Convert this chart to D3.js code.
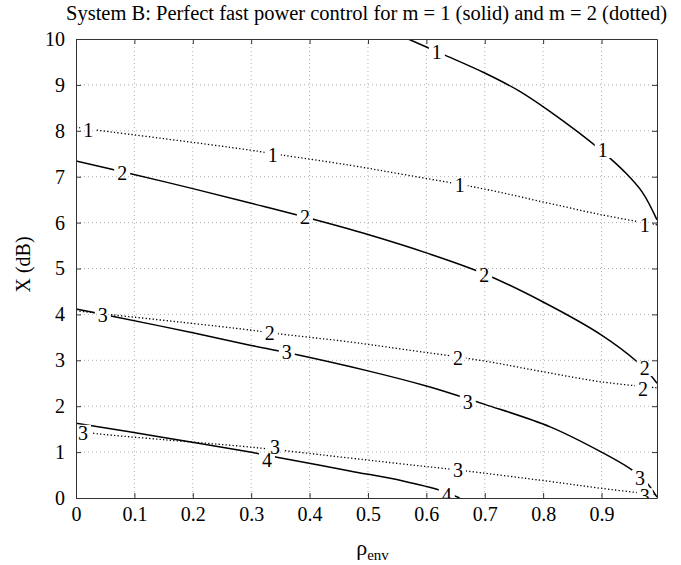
<!DOCTYPE html>
<html>
<head>
<meta charset="utf-8">
<script src="https://cdn.jsdelivr.net/npm/d3@7/dist/d3.min.js"></script>
<style>
  body { margin: 0; background: #fff; }
  text { font-family: "Liberation Serif", "Times New Roman", serif; }
</style>
</head>
<body>
<div id="chart"></div>
<script>
const MARGIN = { TOP: 39, BOTTOM: 67, LEFT: 76, RIGHT: 24 }
const WIDTH = 681 - MARGIN.LEFT - MARGIN.RIGHT
const HEIGHT = 565 - MARGIN.TOP - MARGIN.BOTTOM
const FONT_SIZE = 20

const xTicks = [0, 0.1, 0.2, 0.3, 0.4, 0.5, 0.6, 0.7, 0.8, 0.9]
const yTicks = [0, 1, 2, 3, 4, 5, 6, 7, 8, 9, 10]

// m = 1 (solid) contours, [rho, X dB]
const solid1 = [[0.569, 10], [0.628, 9.67], [0.70, 9.26], [0.76, 8.86], [0.812, 8.42], [0.86, 7.97], [0.904, 7.52], [0.94, 7.1], [0.97, 6.66], [0.995, 6.06]]
const solid2 = [[0, 7.34], [0.092, 7.07], [0.2, 6.74], [0.3, 6.42], [0.392, 6.12], [0.5, 5.74], [0.6, 5.34], [0.7, 4.88], [0.8, 4.27], [0.9, 3.55], [0.96, 2.98], [0.983, 2.69], [0.995, 2.5]]
const solid3 = [[0, 4.12], [0.062, 3.96], [0.2, 3.6], [0.298, 3.33], [0.361, 3.17], [0.5, 2.77], [0.6, 2.44], [0.7, 2.04], [0.812, 1.55], [0.9, 1.0], [0.949, 0.64], [0.975, 0.37], [0.995, 0.02]]
const solid4 = [[0, 1.63], [0.15, 1.32], [0.298, 1.0], [0.344, 0.89], [0.469, 0.59], [0.56, 0.37], [0.623, 0.17], [0.657, 0]]

// m = 2 (dotted) contours
const dotted1 = [[0, 8.08], [0.033, 8.02], [0.15, 7.83], [0.298, 7.58], [0.354, 7.47], [0.469, 7.25], [0.569, 7.03], [0.692, 6.75], [0.8, 6.45], [0.9, 6.17], [0.995, 5.95]]
const dotted2 = [[0, 4.08], [0.063, 3.99], [0.18, 3.83], [0.298, 3.66], [0.332, 3.6], [0.469, 3.4], [0.56, 3.24], [0.692, 3.0], [0.8, 2.75], [0.9, 2.53], [0.995, 2.4]]
const dotted3 = [[0, 1.48], [0.024, 1.42], [0.15, 1.27], [0.298, 1.11], [0.469, 0.87], [0.56, 0.74], [0.654, 0.61], [0.812, 0.36], [0.9, 0.21], [0.995, 0.07]]

// inline contour labels, [rho, X dB]
const solid1Labels = [[0.618, 9.72], [0.902, 7.58]]
const solid2Labels = [[0.079, 7.08], [0.392, 6.12], [0.699, 4.86], [0.974, 2.83]]
const solid3Labels = [[0.046, 3.99], [0.361, 3.18], [0.671, 2.09], [0.966, 0.44]]
const solid4Labels = [[0.327, 0.83], [0.635, 0.07]]
const dotted1Labels = [[0.021, 8.02], [0.337, 7.47], [0.657, 6.82], [0.974, 5.95]]
const dotted2Labels = [[0.332, 3.59], [0.654, 3.05], [0.971, 2.37]]
const dotted3Labels = [[0.012, 1.42], [0.341, 1.11], [0.654, 0.61], [0.974, 0.04]]

const contours = [
  { level: "1", points: solid1, labels: solid1Labels, dotted: false },
  { level: "2", points: solid2, labels: solid2Labels, dotted: false },
  { level: "3", points: solid3, labels: solid3Labels, dotted: false },
  { level: "4", points: solid4, labels: solid4Labels, dotted: false },
  { level: "1", points: dotted1, labels: dotted1Labels, dotted: true },
  { level: "2", points: dotted2, labels: dotted2Labels, dotted: true },
  { level: "3", points: dotted3, labels: dotted3Labels, dotted: true },
]

const svgRoot = d3.select("#chart")
  .append("svg")
  .attr("width", 681)
  .attr("height", 565)

svgRoot.append("text")
  .attr("x", MARGIN.LEFT + WIDTH / 2)
  .attr("y", 20)
  .attr("text-anchor", "middle")
  .attr("font-size", 20.5)
  .text("System B: Perfect fast power control for m = 1 (solid) and m = 2 (dotted)")

const svg = svgRoot.append("g")
  .attr("transform", `translate(${MARGIN.LEFT}, ${MARGIN.TOP})`)

const x = d3.scaleLinear().domain([0, 0.995]).range([0, WIDTH])
const y = d3.scaleLinear().domain([0, 10]).range([HEIGHT, 0])

// grid
svg.append("g").selectAll("line")
  .data(xTicks.filter(d => d > 0))
  .join("line")
  .attr("x1", d => x(d)).attr("x2", d => x(d))
  .attr("y1", 0).attr("y2", HEIGHT)
  .attr("stroke", "#999").attr("stroke-width", 0.8)
  .attr("stroke-dasharray", "1,3")
svg.append("g").selectAll("line")
  .data(yTicks.filter(d => d > 0 && d < 10))
  .join("line")
  .attr("x1", 0).attr("x2", WIDTH)
  .attr("y1", d => y(d)).attr("y2", d => y(d))
  .attr("stroke", "#999").attr("stroke-width", 0.8)
  .attr("stroke-dasharray", "1,3")

// clip + mask for the inline labels
const defs = svgRoot.append("defs")
defs.append("clipPath").attr("id", "plotClip")
  .append("rect").attr("width", WIDTH).attr("height", HEIGHT)

const mask = defs.append("mask").attr("id", "labelMask")
  .attr("maskUnits", "userSpaceOnUse")
  .attr("x", -10).attr("y", -10).attr("width", WIDTH + 20).attr("height", HEIGHT + 20)
mask.append("rect")
  .attr("x", -10).attr("y", -10).attr("width", WIDTH + 20).attr("height", HEIGHT + 20)
  .attr("fill", "white")

const line = d3.line()
  .x(d => x(d[0]))
  .y(d => y(d[1]))
  .curve(d3.curveCatmullRom.alpha(0.5))

const plot = svg.append("g").attr("clip-path", "url(#plotClip)")
const lineGroup = plot.append("g").attr("mask", "url(#labelMask)")

contours.forEach(c => {
  lineGroup.append("path")
    .datum(c.points)
    .attr("fill", "none")
    .attr("stroke", "#000")
    .attr("stroke-width", c.dotted ? 1.3 : 1.5)
    .attr("stroke-dasharray", c.dotted ? "1.3,2.2" : null)
    .attr("d", line)

  c.labels.forEach(l => {
    const tf = `translate(${x(l[0])}, ${y(l[1])})`
    mask.append("rect")
      .attr("x", -8).attr("y", -8).attr("width", 16).attr("height", 16)
      .attr("transform", tf)
      .attr("fill", "black")
    plot.append("text")
      .attr("transform", tf)
      .attr("text-anchor", "middle")
      .attr("dy", "0.35em")
      .attr("font-size", FONT_SIZE)
      .text(c.level)
  })
})

// axes with inward ticks on all sides
const styleAxis = g => {
  g.select(".domain").attr("stroke", "#333").attr("stroke-width", 1)
  g.selectAll(".tick line").attr("stroke", "#333")
  g.selectAll("text").attr("font-size", FONT_SIZE).attr("fill", "#000")
    .attr("font-family", "'Liberation Serif', serif")
}

svg.append("g")
  .attr("transform", `translate(0, ${HEIGHT})`)
  .call(d3.axisBottom(x).tickValues(xTicks).tickSize(-5).tickSizeOuter(0).tickPadding(9)
    .tickFormat(d => d === 0 ? "0" : d3.format(".1f")(d)))
  .call(styleAxis)
svg.append("g")
  .call(d3.axisTop(x).tickValues(xTicks).tickSize(-5).tickSizeOuter(0).tickFormat(""))
  .call(styleAxis)
svg.append("g")
  .call(d3.axisLeft(y).tickValues(yTicks).tickSize(-5).tickSizeOuter(0).tickPadding(11))
  .call(styleAxis)
svg.append("g")
  .attr("transform", `translate(${WIDTH}, 0)`)
  .call(d3.axisRight(y).tickValues(yTicks).tickSize(-5).tickSizeOuter(0).tickFormat(""))
  .call(styleAxis)

// axis labels
const xLabel = svgRoot.append("text")
  .attr("x", MARGIN.LEFT + WIDTH / 2 + 6)
  .attr("y", 555)
  .attr("text-anchor", "middle")
  .attr("font-size", 22)
xLabel.append("tspan").text("ρ")
xLabel.append("tspan").attr("font-size", 15).attr("dy", 5).text("env")

svgRoot.append("text")
  .attr("transform", `translate(30, ${MARGIN.TOP + HEIGHT / 2 - 4}) rotate(-90)`)
  .attr("text-anchor", "middle")
  .attr("font-size", FONT_SIZE)
  .text("X (dB)")
</script>
</body>
</html>
